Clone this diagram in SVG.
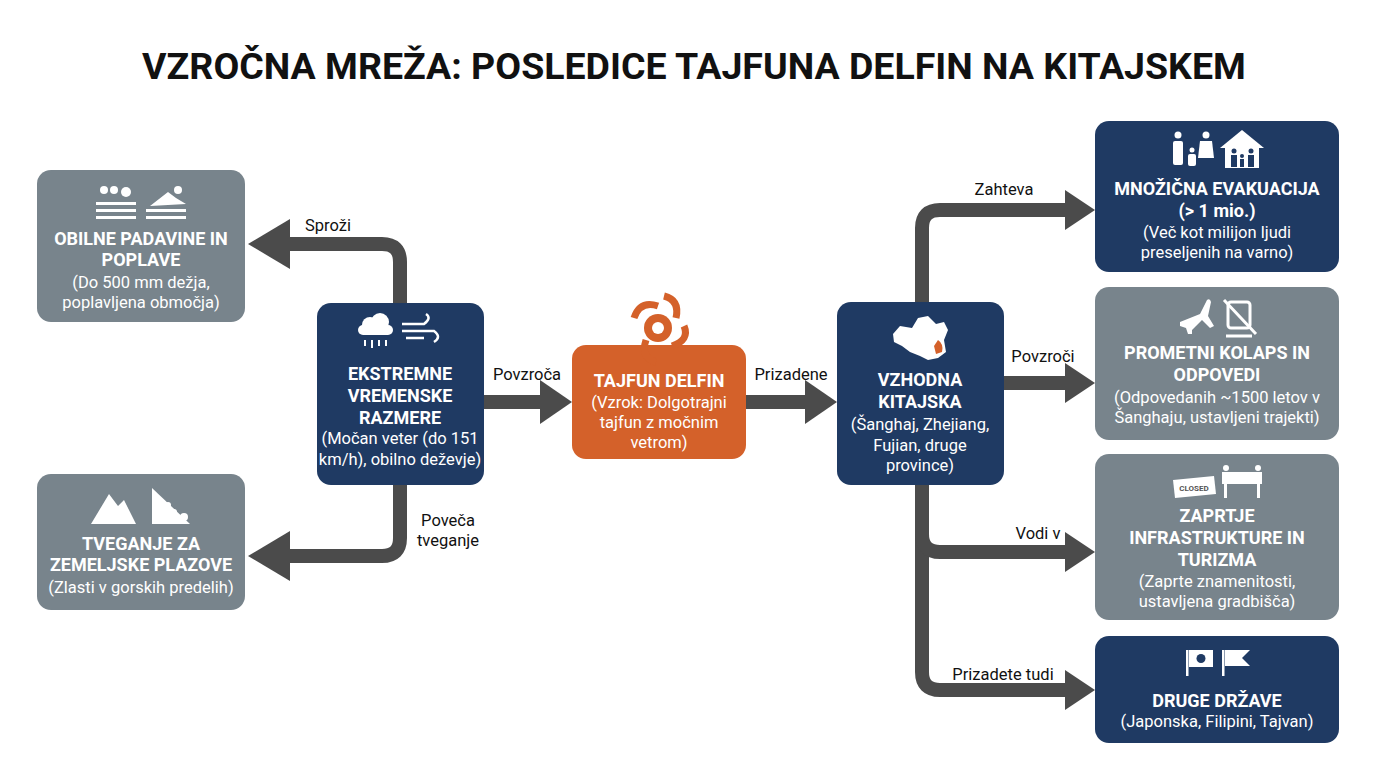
<svg xmlns="http://www.w3.org/2000/svg" width="1376" height="768" viewBox="0 0 1376 768">
<style>
.t{font-family:Roboto,"Liberation Sans",sans-serif;text-anchor:middle;fill:#fff}
.h{font-weight:bold;font-size:18px}
.s{font-size:16.5px}
.l{font-family:Roboto,"Liberation Sans",sans-serif;font-size:16.5px;fill:#111;text-anchor:middle}
.navy{fill:#1f3a63}.gray{fill:#78848c}.orng{fill:#d4612a}
.c{fill:none;stroke:#4b4b4b;stroke-width:14}
.ah{fill:#4b4b4b}
.ic{fill:#fff}
</style>
<rect width="1376" height="768" fill="#fff"/>
<text x="694" y="79" font-family="Roboto,'Liberation Sans',sans-serif" font-weight="bold" font-size="37.5" text-anchor="middle" fill="#111">VZROČNA MREŽA: POSLEDICE TAJFUNA DELFIN NA KITAJSKEM</text>

<g id="connectors">
<path class="c" d="M400 303 V262 Q400 244 382 244 H285"/>
<polygon class="ah" points="248,244 290,219 290,269"/>
<path class="c" d="M400 485 V538 Q400 556 382 556 H285"/>
<polygon class="ah" points="248,556 290,531 290,581"/>
<path class="c" d="M484 402 H540"/>
<polygon class="ah" points="572,402 540,380 540,424"/>
<path class="c" d="M746 402 H805"/>
<polygon class="ah" points="837,402 805,380 805,424"/>
<path class="c" d="M922 302 V228 Q922 210 940 210 H1065"/>
<polygon class="ah" points="1095,210 1065,190 1065,230"/>
<path class="c" d="M1004 383 H1065"/>
<polygon class="ah" points="1095,383 1065,363 1065,403"/>
<path class="c" d="M922 485 V672 Q922 690 940 690 H1065"/>
<path class="c" d="M922 534 Q922 552 940 552 H1065"/>
<polygon class="ah" points="1095,552 1065,532 1065,572"/>
<polygon class="ah" points="1095,690 1065,670 1065,710"/>
<text class="l" x="328" y="231">Sproži</text>
<text class="l" x="448" y="526">Poveča</text>
<text class="l" x="448" y="546">tveganje</text>
<text class="l" x="527" y="380">Povzroča</text>
<text class="l" x="791" y="380">Prizadene</text>
<text class="l" x="1004" y="195">Zahteva</text>
<text class="l" x="1043" y="362">Povzroči</text>
<text class="l" x="1038" y="539">Vodi v</text>
<text class="l" x="1003" y="680">Prizadete tudi</text>
</g>

<g id="n-padavine">
<rect class="gray" x="37" y="170" width="208" height="152" rx="14"/>
<g class="ic"><circle cx="104" cy="190" r="4"/><circle cx="114" cy="190" r="4"/><circle cx="126" cy="192" r="5"/>
<rect x="96" y="202" width="40" height="3"/><rect x="96" y="209" width="40" height="3"/><rect x="96" y="216" width="40" height="3"/>
<circle cx="178" cy="190" r="4"/><path d="M150 206 L168 192 L176 198 L186 204 Z"/>
<rect x="146" y="209" width="40" height="3"/><rect x="146" y="216" width="40" height="3"/></g>
<text class="t h" x="141" y="245">OBILNE PADAVINE IN</text>
<text class="t h" x="141" y="266">POPLAVE</text>
<text class="t s" x="141" y="288">(Do 500 mm dežja,</text>
<text class="t s" x="141" y="308">poplavljena območja)</text>
</g>

<g id="n-plazovi">
<rect class="gray" x="37" y="474" width="208" height="136" rx="14"/>
<g class="ic"><polygon points="91,524 109,494 118,506 124,500 136,524"/><polygon points="152,488 152,524 190,524"/><circle cx="168" cy="505" r="3"/><circle cx="174" cy="512" r="3"/><circle cx="184" cy="517" r="4"/></g>
<text class="t h" x="141" y="550">TVEGANJE ZA</text>
<text class="t h" x="141" y="571">ZEMELJSKE PLAZOVE</text>
<text class="t s" x="141" y="593">(Zlasti v gorskih predelih)</text>
</g>

<g id="n-ekstremne">
<rect class="navy" x="317" y="303" width="167" height="182" rx="14"/>
<g class="ic"><circle cx="370" cy="325" r="8"/><circle cx="380" cy="322" r="9"/><rect x="358" y="325" width="35" height="10" rx="5"/>
<rect x="364" y="340" width="2" height="6"/><rect x="371" y="340" width="2" height="8"/><rect x="378" y="340" width="2" height="6"/><rect x="385" y="340" width="2" height="6"/></g>
<path d="M402 324 H424 Q432 318 426 314 M402 331 H434 Q442 337 434 342 M406 338 H424" fill="none" stroke="#fff" stroke-width="2.5"/>
<text class="t h" x="400" y="380">EKSTREMNE</text>
<text class="t h" x="400" y="402">VREMENSKE</text>
<text class="t h" x="400" y="424">RAZMERE</text>
<text class="t s" x="400" y="444">(Močan veter (do 151</text>
<text class="t s" x="400" y="465">km/h), obilno deževje)</text>
</g>

<g id="n-tajfun">
<rect class="orng" x="572" y="345" width="174" height="114" rx="14"/>
<g fill="none" stroke="#d4612a" stroke-width="7"><path d="M658 306 Q640 300 634 318"/><path d="M676 318 Q680 300 664 296"/><path d="M672 346 Q690 340 684 326"/><path d="M646 340 Q640 358 656 362"/></g>
<circle cx="658" cy="328" r="14" fill="#d4612a"/><circle cx="658" cy="328" r="6" fill="#fff"/>
<text class="t h" x="659" y="387">TAJFUN DELFIN</text>
<text class="t s" x="659" y="408">(Vzrok: Dolgotrajni</text>
<text class="t s" x="659" y="428">tajfun z močnim</text>
<text class="t s" x="659" y="448">vetrom)</text>
</g>

<g id="n-vzhodna">
<rect class="navy" x="837" y="302" width="167" height="183" rx="14"/>
<path class="ic" d="M893 334 L900 326 L912 328 L918 318 L928 316 L936 324 L944 322 L948 330 L944 340 L946 352 L938 358 L928 360 L920 356 L910 352 L902 346 L894 342 Z"/>
<path d="M938 340 Q944 344 942 352 L936 354 L934 346 Z" fill="#d4612a"/>
<text class="t h" x="920" y="386">VZHODNA</text>
<text class="t h" x="920" y="408">KITAJSKA</text>
<text class="t s" x="920" y="430">(Šanghaj, Zhejiang,</text>
<text class="t s" x="920" y="451">Fujian, druge</text>
<text class="t s" x="920" y="471">province)</text>
</g>

<g id="n-evakuacija">
<rect class="navy" x="1095" y="121" width="244" height="151" rx="14"/>
<g class="ic"><circle cx="1178" cy="135" r="3.5"/><rect x="1173" y="141" width="10" height="24" rx="2"/><circle cx="1206" cy="135" r="3.5"/><polygon points="1200,141 1212,141 1214,158 1198,158"/><circle cx="1192" cy="150" r="2.5"/><rect x="1188" y="154" width="8" height="12" rx="2"/>
<polygon points="1220,148 1242,130 1264,148"/><rect x="1225" y="147" width="34" height="21"/></g>
<g fill="#1f3a63"><circle cx="1234" cy="151" r="2.5"/><rect x="1231" y="155" width="6" height="12"/><circle cx="1251" cy="151" r="2.5"/><rect x="1248" y="155" width="6" height="12"/><circle cx="1242" cy="156" r="2"/><rect x="1240" y="159" width="4" height="8"/></g>
<text class="t h" x="1217" y="195">MNOŽIČNA EVAKUACIJA</text>
<text class="t h" x="1217" y="217">(&gt; 1 mio.)</text>
<text class="t s" x="1217" y="238">(Več kot milijon ljudi</text>
<text class="t s" x="1217" y="258">preseljenih na varno)</text>
</g>

<g id="n-promet">
<rect class="gray" x="1095" y="287" width="244" height="153" rx="14"/>
<path class="ic" d="M1180 322 L1200 314 L1207 300 Q1210 298 1211 302 L1208 316 L1214 326 L1210 328 L1202 320 L1192 330 L1192 334 L1188 334 L1186 328 L1180 326 Z"/>
<rect x="1228" y="302" width="22" height="26" rx="3" fill="none" stroke="#fff" stroke-width="3"/>
<path d="M1226 336 L1252 336 M1224 300 L1256 334" stroke="#fff" stroke-width="3"/>
<text class="t h" x="1217" y="359">PROMETNI KOLAPS IN</text>
<text class="t h" x="1217" y="381">ODPOVEDI</text>
<text class="t s" x="1217" y="403">(Odpovedanih ~1500 letov v</text>
<text class="t s" x="1217" y="423">Šanghaju, ustavljeni trajekti)</text>
</g>

<g id="n-zaprtje">
<rect class="gray" x="1095" y="454" width="244" height="166" rx="14"/>
<polygon points="1173,480 1214,476 1216,494 1175,498" fill="#fff"/>
<text x="1194" y="491" font-family="Roboto,'Liberation Sans',sans-serif" font-size="8" font-weight="bold" text-anchor="middle" fill="#555">CLOSED</text>
<g class="ic"><rect x="1222" y="472" width="40" height="12"/><rect x="1224" y="484" width="3" height="14"/><rect x="1257" y="484" width="3" height="14"/><circle cx="1226" cy="468" r="3"/><circle cx="1258" cy="468" r="3"/></g>
<text class="t h" x="1217" y="522">ZAPRTJE</text>
<text class="t h" x="1217" y="544">INFRASTRUKTURE IN</text>
<text class="t h" x="1217" y="566">TURIZMA</text>
<text class="t s" x="1217" y="587">(Zaprte znamenitosti,</text>
<text class="t s" x="1217" y="607">ustavljena gradbišča)</text>
</g>

<g id="n-druge">
<rect class="navy" x="1095" y="636" width="244" height="107" rx="14"/>
<g class="ic"><rect x="1186" y="650" width="2.5" height="26"/><rect x="1189" y="650" width="24" height="17"/><rect x="1222" y="650" width="2.5" height="26"/><path d="M1225 650 H1250 L1242 658 L1250 666 H1225 Z"/></g>
<circle cx="1201" cy="658.5" r="4.5" fill="#1f3a63"/>
<text class="t h" x="1217" y="707">DRUGE DRŽAVE</text>
<text class="t s" x="1217" y="727">(Japonska, Filipini, Tajvan)</text>
</g>
</svg>
